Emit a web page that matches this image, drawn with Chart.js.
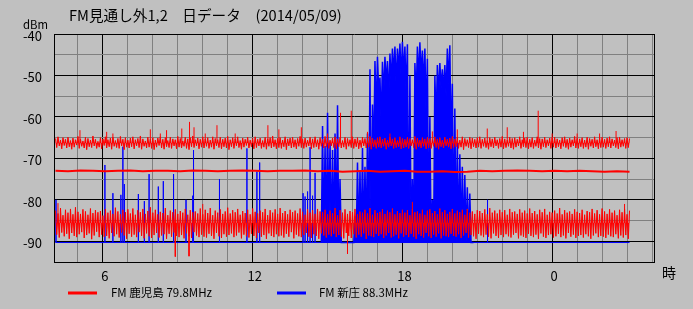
<!DOCTYPE html>
<html><head><meta charset="utf-8">
<script src="https://cdn.jsdelivr.net/npm/chart.js@4.4.1/dist/chart.umd.min.js"></script>
<style>html,body{margin:0;padding:0;background:#c0c0c0;}#wrap{width:693px;height:309px;position:relative;}</style>
</head><body><div id="wrap"><canvas id="c"></canvas></div>
<script>
// ---- texts ----
const titleText = 'FM見通し外1,2　日データ　(2014/05/09)';
const yUnit = 'dBm';
const xUnit = '時';
const seriesNames = ['FM 鹿児島 79.8MHz', 'FM 新庄 88.3MHz'];
const yTickLabels = [-40, -50, -60, -70, -80, -90];
const xTickHours = [6, 12, 18, 24];
const xTickLabels = ['6', '12', '18', '0'];

// ---- sampling (hours) ----
const sampleStart = 4.1;
const bandStep = 0.05;
const midStep = 0.5;
const burstStep = 0.1;

// FM 鹿児島: upper band (~ -66 dBm), 0.05 h samples (noise peaks/troughs)
const kagoshimaUpper = [
-65.2,-67.4,-64.8,-67.0,-65.6,-67.7,-65.0,-66.9,-65.4,-67.5,-64.9,-67.2,-65.7,-67.8,-65.1,-67.3,-65.5,-66.8,-64.7,-67.6,
-65.3,-67.1,-65.8,-67.5,-64.9,-67.9,-65.2,-67.2,-65.6,-67.4,-64.6,-67.0,-65.4,-67.6,-65.9,-67.3,-65.0,-67.7,-65.3,-66.9,
-64.8,-67.5,-65.5,-67.2,-65.1,-67.8,-64.9,-67.1,-65.7,-67.4,-65.2,-67.6,-64.7,-67.0,-65.4,-67.9,-65.0,-67.3,-65.6,-67.5,
-65.1,-67.2,-64.8,-67.7,-65.5,-67.0,-65.2,-67.4,-64.6,-67.8,-65.3,-67.1,-65.8,-67.5,-64.9,-67.3,-65.4,-67.6,-65.0,-67.9,
-65.6,-67.3,-65.1,-66.9,-64.8,-67.5,-65.4,-67.8,-65.0,-67.2,-65.7,-67.4,-64.9,-67.6,-65.3,-67.0,-65.5,-67.7,-64.7,-67.3,
-65.2,-67.5,-65.8,-67.1,-64.9,-67.6,-65.3,-67.9,-65.0,-67.2,-64.6,-67.4,-65.5,-67.0,-65.1,-67.7,-65.4,-67.3,-64.8,-67.5,
-65.3,-67.1,-65.0,-67.6,-65.6,-67.3,-64.8,-67.8,-65.2,-67.0,-65.5,-67.4,-64.9,-67.7,-65.4,-67.2,-65.1,-67.5,-64.7,-67.9,
-65.5,-67.2,-65.0,-67.6,-65.3,-67.0,-64.8,-67.4,-65.7,-67.8,-65.1,-67.3,-65.4,-66.9,-64.9,-67.5,-65.6,-67.2,-65.2,-67.7,
-64.8,-67.4,-65.4,-67.0,-65.1,-67.6,-65.7,-67.3,-64.9,-67.8,-65.3,-67.1,-65.0,-67.5,-64.6,-67.2,-65.5,-67.7,-65.2,-67.4,
-65.0,-67.6,-65.6,-67.2,-64.8,-67.9,-65.3,-67.0,-65.1,-67.5,-64.9,-67.3,-65.5,-67.7,-65.2,-67.1,-64.7,-67.4,-65.4,-67.6,
-65.1,-67.3,-65.6,-67.0,-64.9,-67.7,-65.3,-67.4,-64.8,-67.2,-65.5,-67.8,-65.0,-67.1,-65.4,-67.5,-64.7,-67.3,-65.2,-67.6,
-65.6,-67.0,-65.1,-67.4,-64.8,-67.7,-65.3,-67.2,-65.0,-67.5,-65.7,-67.3,-64.9,-67.8,-65.2,-67.1,-65.5,-67.4,-64.8,-67.6,
-65.3,-67.2,-65.0,-67.7,-65.6,-67.4,-64.9,-67.0,-65.2,-67.5,-65.4,-67.3,-64.7,-67.8,-65.1,-67.2,-65.5,-67.6,-65.0,-67.3,
-64.8,-67.5,-65.4,-67.1,-65.1,-67.8,-65.6,-67.3,-64.9,-67.0,-65.3,-67.6,-65.0,-67.4,-65.7,-67.2,-64.8,-67.7,-65.2,-67.5,
-65.4,-67.3,-64.9,-67.6,-65.2,-67.0,-65.5,-67.4,-64.7,-67.8,-65.1,-67.2,-65.6,-67.5,-65.0,-67.1,-65.3,-67.7,-64.9,-67.4,
-65.2,-67.6,-65.5,-67.1,-64.8,-67.4,-65.3,-67.8,-65.0,-67.2,-65.6,-67.5,-64.9,-67.0,-65.4,-67.3,-65.1,-67.7,-64.7,-67.4,
-65.3,-67.2,-65.0,-67.6,-65.6,-67.3,-64.8,-67.9,-65.2,-67.1,-65.5,-67.4,-64.9,-67.7,-65.1,-67.2,-65.4,-67.5,-65.0,-67.3,
-64.8,-67.6,-65.4,-67.1,-65.1,-67.4,-65.7,-67.8,-65.0,-67.2,-65.3,-67.5,-64.9,-67.0,-65.5,-67.6,-65.2,-67.3,-64.7,-67.7,
-65.3,-67.4,-65.6,-67.1,-64.9,-67.5,-65.2,-67.8,-65.0,-67.3,-65.4,-67.0,-64.8,-67.6,-65.5,-67.2,-65.1,-67.4,-64.9,-67.7,
-65.4,-67.3,-65.0,-67.6,-65.6,-67.1,-64.8,-67.5,-65.2,-67.8,-65.3,-67.2,-64.9,-67.4,-65.5,-67.0,-65.1,-67.6,-65.0,-67.3,
-64.9,-67.5,-65.3,-67.2,-65.6,-67.7,-65.0,-67.1,-64.8,-67.4,-65.4,-67.8,-65.1,-67.3,-65.5,-67.0,-64.7,-67.5,-65.2,-67.6,
-65.3,-67.2,-65.0,-67.6,-65.6,-67.3,-64.9,-67.8,-65.2,-67.1,-65.4,-67.5,-64.8,-67.2,-65.5,-67.7,-65.1,-67.4,-64.9,-67.3,
-65.4,-67.6,-65.1,-67.2,-64.8,-67.5,-65.3,-67.0,-65.6,-67.4,-65.0,-67.7,-64.9,-67.3,-65.5,-67.1,-65.2,-67.6,-65.0,-67.4,
-65.2
];
const kagoshimaUpperCenter = -66.3;
const kagoshimaUpperSpikeHours  = [5.08, 6.15, 6.4, 7.9, 8.3, 8.55, 9.16, 9.47, 9.65, 10.1, 10.57, 11.3, 12.61, 13.05, 13.95, 15.0, 15.52, 15.95, 16.6, 17.5, 19.2, 20.2, 21.4, 22.2, 22.85, 23.44, 24.0, 25.0, 25.9, 26.56];
const kagoshimaUpperSpikeValues = [-63.2, -63.6, -64.0, -63.0, -64.0, -63.2, -62.8, -61.2, -62.5, -64.0, -62.0, -64.0, -62.0, -63.0, -62.5, -64.0, -59.0, -58.5, -63.6, -64.0, -63.5, -63.0, -62.8, -62.5, -63.6, -58.5, -64.0, -64.0, -64.0, -63.4];

// FM 鹿児島: middle trace (~ -73 dBm), 0.5 h samples
const kagoshimaMid = [
-73.0,-73.1,-72.9,-73.0,-73.1,-73.0,-72.9,-73.1,-73.0,-73.0,
-73.1,-72.9,-73.0,-73.1,-73.0,-72.9,-73.0,-73.1,-73.0,-73.0,
-72.9,-73.1,-73.0,-73.2,-73.1,-73.0,-73.2,-73.1,-73.0,-73.2,
-73.2,-73.1,-73.3,-73.2,-73.0,-73.1,-73.0,-72.9,-73.0,-73.1,
-73.0,-73.1,-73.0,-73.1,-73.2,-73.1,-73.2
];

// FM 鹿児島: lower band (~ -85 dBm), 0.05 h samples (noise peaks/troughs)
const kagoshimaLower = [
-82.6,-88.4,-83.3,-89.1,-82.0,-87.9,-83.7,-88.8,-82.4,-88.2,-83.1,-89.4,-82.2,-88.0,-83.5,-88.7,-81.8,-89.0,-82.9,-88.3,
-83.4,-87.8,-82.3,-89.2,-82.8,-88.5,-83.6,-88.1,-82.1,-89.5,-83.2,-88.6,-82.5,-87.7,-83.0,-89.0,-82.7,-88.4,-83.8,-88.9,
-82.2,-88.7,-83.1,-89.3,-82.6,-88.0,-83.4,-88.8,-81.9,-88.3,-82.8,-89.1,-83.5,-87.9,-82.4,-88.6,-83.0,-89.4,-82.3,-88.2,
-83.3,-88.9,-82.1,-88.4,-83.6,-89.0,-82.5,-87.8,-83.0,-88.7,-82.2,-89.3,-83.4,-88.1,-82.7,-88.8,-81.8,-89.2,-83.1,-88.5,
-82.4,-88.0,-83.5,-89.1,-82.9,-88.6,-83.2,-88.3,-82.0,-89.4,-83.7,-88.2,-82.6,-88.9,-83.0,-87.9,-82.3,-88.7,-83.4,-89.0,
-82.7,-88.5,-83.1,-89.3,-82.2,-88.1,-83.6,-88.8,-82.5,-89.2,-83.0,-87.8,-82.8,-88.6,-83.3,-89.0,-82.1,-88.4,-83.5,-88.9,
-82.4,-89.1,-83.2,-88.2,-82.0,-88.7,-83.7,-89.4,-82.6,-88.0,-83.1,-88.8,-82.3,-89.2,-83.4,-88.3,-82.8,-88.9,-81.9,-88.5,
-83.3,-88.1,-82.5,-89.0,-83.0,-88.6,-82.2,-87.9,-83.6,-89.3,-82.7,-88.4,-83.2,-88.8,-82.4,-89.1,-83.5,-88.2,-82.1,-88.7,
-82.9,-89.2,-83.3,-88.0,-82.6,-88.9,-83.0,-88.5,-82.2,-89.4,-83.7,-88.1,-82.5,-88.7,-83.1,-89.0,-82.3,-88.3,-83.4,-88.8,
-82.0,-88.6,-83.2,-89.1,-82.7,-88.2,-83.5,-88.9,-82.4,-87.8,-83.0,-89.3,-82.6,-88.4,-83.3,-88.8,-82.1,-89.0,-82.9,-88.5,
-83.6,-88.0,-82.3,-88.9,-83.1,-89.2,-82.5,-88.3,-83.4,-88.7,-82.2,-89.4,-82.8,-88.1,-83.0,-88.6,-82.4,-89.1,-83.5,-88.4,
-82.6,-88.8,-83.2,-88.2,-82.0,-89.0,-83.7,-88.5,-82.5,-88.9,-83.1,-89.3,-82.3,-88.0,-83.4,-88.7,-82.7,-89.2,-83.0,-88.3,
-82.2,-89.1,-83.5,-88.4,-82.8,-88.9,-83.1,-88.1,-82.4,-89.4,-83.3,-88.6,-82.0,-88.8,-83.6,-89.0,-82.5,-88.2,-83.2,-88.7,
-82.9,-88.3,-82.3,-89.2,-83.4,-88.6,-82.6,-88.0,-83.0,-89.1,-82.1,-88.8,-83.5,-88.4,-82.7,-89.3,-83.2,-88.1,-82.4,-88.9,
-83.1,-88.5,-82.5,-89.0,-83.7,-88.2,-82.2,-88.9,-83.0,-89.4,-82.8,-88.3,-83.3,-88.7,-82.4,-89.1,-83.6,-88.0,-82.6,-88.8,
-82.3,-89.2,-83.2,-88.4,-82.7,-88.9,-83.5,-88.1,-82.1,-89.3,-83.0,-88.6,-82.5,-88.8,-83.4,-89.0,-82.9,-88.2,-82.2,-88.7,
-83.3,-88.9,-82.6,-88.3,-83.0,-89.2,-82.4,-88.6,-83.6,-88.0,-82.2,-89.1,-83.1,-88.5,-82.8,-88.8,-83.4,-89.4,-82.5,-88.2,
-82.7,-88.6,-83.2,-89.0,-82.3,-88.4,-83.5,-88.9,-82.0,-89.3,-83.1,-88.1,-82.6,-88.7,-83.3,-89.2,-82.4,-88.5,-83.0,-89.0,
-82.5,-88.3,-83.6,-88.8,-82.2,-89.1,-83.0,-88.4,-82.8,-88.0,-83.4,-89.3,-82.3,-88.6,-83.1,-88.9,-82.6,-89.2,-83.3,-88.2,
-82.1,-88.7,-83.2,-89.0,-82.7,-88.4,-83.5,-89.4,-82.4,-88.1,-83.0,-88.9,-82.2,-89.2,-83.6,-88.5,-82.9,-88.3,-83.1,-89.1,
-82.6,-88.8,-83.3,-88.2,-82.0,-89.0,-83.5,-88.6,-82.5,-89.3,-83.1,-88.0,-82.8,-88.9,-83.4,-88.4,-82.3,-89.2,-82.9,-88.7,
-83.2,-88.5,-82.4,-89.1,-83.6,-88.3,-82.7,-88.8,-83.0,-89.4,-82.2,-88.6,-83.3,-88.1,-82.5,-89.0,-83.5,-88.7,-82.1,-88.9,
-82.8,-89.2,-83.4,-88.4,-82.3,-88.8,-83.1,-89.0,-82.6,-88.3,-83.7,-89.3,-82.4,-88.6,-83.0,-89.1,-82.2,-88.5,-83.5,-89.4,
-82.6
];
const kagoshimaLowerCenter = -85.6;
const kagoshimaLowerSpikeHours  = [4.2, 8.9, 9.45, 10.0, 15.8, 18.4, 26.9];
const kagoshimaLowerSpikeValues = [-80.8, -93.7, -93.6, -81.0, -93.0, -80.5, -81.0];

// FM 新庄: floor level, isolated spikes, and the evening burst (0.1 h peaks, troughs between)
const shinjoFloor = -90.3;
const shinjoEnd = 27.1;
const shinjoSpikeHours  = [4.12, 6.08, 6.4, 6.72, 6.8, 6.86, 7.42, 7.66, 7.85, 8.22, 8.42, 8.83, 9.33, 9.6, 9.63, 10.67, 11.77, 12.17, 12.28, 14.02, 14.1, 14.2, 14.3, 14.4, 14.5, 21.41];
const shinjoSpikeValues = [-80, -71.6, -78.4, -78.8, -67.2, -76.2, -78.6, -80.3, -73.8, -76.8, -75.5, -73.8, -80, -79, -68, -75, -67.6, -73.2, -71, -78.4, -79.2, -78, -67.3, -79, -73.5, -80];
const shinjoBurstStart = 14.8;
const shinjoBurstPeaks = [
-62.2,-67,-59,-66,-68,-64,-57.2,-75,-90.3,-90.3,
-90.3,-90.3,-90.3,-84,-71,-73,-67.5,-72,-64,-48.5,
-57,-46.5,-45.5,-50.5,-46.7,-45.5,-46.5,-44.7,-43.5,-43,
-43.5,-42.3,-41.9,-43,-42.5,-50,-75,-47,-43,-42,
-44,-43.5,-46,-60,-80,-50,-47.5,-47,-48.5,-47.5,
-43.5,-42.7,-52,-58,-66,-69,-72,-74,-77,-78.5,
-90.3
];
const shinjoBurstTroughs = [
-90.3,-90.3,-88,-90.3,-90.3,-90.3,-90.3,-90.3,-90.3,-90.3,
-90.3,-90.3,-90.3,-90.3,-90.3,-90.3,-90.3,-90.3,-90.3,-90.3,
-70,-60,-54,-62,-55,-52,-56,-52,-50,-53,
-49,-51,-50,-55,-90.3,-90.3,-90.3,-56,-51,-50,
-53,-60,-90.3,-90.3,-90.3,-62,-55,-53,-54,-55,
-52,-68,-90.3,-90.3,-90.3,-90.3,-90.3,-90.3,-90.3,-90.3,
-90.3
];

// ---- build library data ----
function sampled(arr, start, step) {
  return arr.map((v, i) => ({ x: +(start + i * step).toFixed(3), y: v }));
}
function spikes(hours, values, base) {
  const pts = [];
  hours.forEach((t, i) => { pts.push({ x: t, y: base }, { x: t, y: values[i] }, { x: t, y: null }); });
  return pts;
}
const shinjoBase = [{ x: sampleStart, y: shinjoFloor }];
shinjoSpikeHours.forEach((t, i) => {
  shinjoBase.push({ x: t, y: shinjoFloor }, { x: t, y: shinjoSpikeValues[i] }, { x: t, y: shinjoFloor });
});
shinjoBase.push({ x: shinjoEnd, y: shinjoFloor });
shinjoBase.sort((a, b) => a.x - b.x);

const shinjoBurst = [{ x: shinjoBurstStart - burstStep / 2, y: shinjoFloor }];
shinjoBurstPeaks.forEach((v, i) => {
  const t = shinjoBurstStart + i * burstStep;
  shinjoBurst.push({ x: t, y: v }, { x: t + burstStep / 2, y: shinjoBurstTroughs[i] });
});

const RED = '#ff0000', BLUE = '#0000ff';
const FONT = '"Noto Sans CJK JP", "Noto Sans", sans-serif';
const X_MIN = 4.04, X_MAX = 28.08;

function fitText(ctx, text, x, y, width, base) {
  ctx.font = base + 'px ' + FONT;
  const w = ctx.measureText(text).width;
  const size = base * width / w;
  ctx.font = size.toFixed(2) + 'px ' + FONT;
  ctx.fillText(text, x, y);
}

const bgPlugin = {
  id: 'bg',
  beforeDraw(chart) {
    const c = chart.ctx;
    c.save(); c.fillStyle = '#c0c0c0'; c.fillRect(0, 0, chart.width, chart.height); c.restore();
  }
};
const textPlugin = {
  id: 'texts',
  afterDraw(chart) {
    const c = chart.ctx;
    c.save();
    c.fillStyle = '#000';
    c.textBaseline = 'middle';
    c.textAlign = 'left';
    fitText(c, titleText, 69, 15, 273, 15);
    fitText(c, yUnit, 23, 25, 25, 12);
    c.font = '14px ' + FONT;
    c.fillText(xUnit, 662, 273);
    // legend
    c.fillStyle = RED; c.fillRect(68, 291.5, 29, 3);
    c.fillStyle = BLUE; c.fillRect(277, 291.5, 29, 3);
    c.fillStyle = '#000';
    fitText(c, seriesNames[0], 111, 293, 101, 12);
    fitText(c, seriesNames[1], 319, 293, 89, 12);
    c.restore();
  }
};

new Chart(document.getElementById('c'), {
  type: 'line',
  data: {
    datasets: [
      { label: seriesNames[0], data: spikes(kagoshimaUpperSpikeHours, kagoshimaUpperSpikeValues, kagoshimaUpperCenter), borderColor: RED, borderWidth: 1 },
      { label: seriesNames[0], data: spikes(kagoshimaLowerSpikeHours, kagoshimaLowerSpikeValues, kagoshimaLowerCenter), borderColor: RED, borderWidth: 1 },
      { label: seriesNames[0], data: sampled(kagoshimaUpper, sampleStart, bandStep), borderColor: RED, borderWidth: 1, backgroundColor: RED, fill: { value: kagoshimaUpperCenter } },
      { label: seriesNames[0], data: sampled(kagoshimaMid, sampleStart, midStep), borderColor: RED, borderWidth: 2 },
      { label: seriesNames[0], data: sampled(kagoshimaLower, sampleStart, bandStep), borderColor: RED, borderWidth: 1, backgroundColor: RED, fill: { value: kagoshimaLowerCenter } },
      { label: seriesNames[1], data: shinjoBurst, borderColor: BLUE, borderWidth: 1.5, backgroundColor: BLUE, fill: { value: shinjoFloor } },
      { label: seriesNames[1], data: shinjoBase, borderColor: BLUE, borderWidth: 1 }
    ]
  },
  options: {
    animation: false,
    responsive: true,
    maintainAspectRatio: false,
    elements: { point: { radius: 0, hoverRadius: 0 }, line: { tension: 0 } },
    layout: { padding: { top: 34, right: 39, left: 0, bottom: 0 } },
    plugins: { legend: { display: false }, title: { display: false }, tooltip: { enabled: false }, filler: { propagate: false } },
    events: [],
    scales: {
      x: {
        type: 'linear', min: X_MIN, max: X_MAX,
        afterFit(s) { s.height = 47; },
        afterBuildTicks(s) {
          const t = [];
          for (let h = 5; h <= 28; h++) t.push({ value: h });
          t.push({ value: X_MAX });
          s.ticks = t;
        },
        grid: {
          drawTicks: false, lineWidth: 1,
          color: (ctx) => (ctx.tick && (ctx.tick.value % 6 === 0 || ctx.tick.value === X_MAX)) ? '#000000' : '#808080'
        },
        border: { color: '#000000', width: 1 },
        ticks: {
          autoSkip: false, maxRotation: 0, padding: 6, labelOffset: 2, color: '#000',
          font: { family: FONT, size: 13 },
          callback(v) { const k = xTickHours.indexOf(v); return k >= 0 ? xTickLabels[k] : ''; }
        }
      },
      y: {
        min: -95, max: -40,
        afterFit(s) { s.width = 54; },
        grid: {
          drawTicks: false, lineWidth: 1,
          color: (ctx) => (ctx.tick && ctx.tick.value % 10 === 0) ? '#000000' : '#808080'
        },
        border: { color: '#000000', width: 1 },
        ticks: {
          stepSize: 5, autoSkip: false, padding: 12, labelOffset: 2, color: '#000',
          font: { family: FONT, size: 13 },
          callback(v) { return yTickLabels.includes(v) ? String(v) : ''; }
        }
      }
    }
  },
  plugins: [bgPlugin, textPlugin]
});
</script>
</body></html>
